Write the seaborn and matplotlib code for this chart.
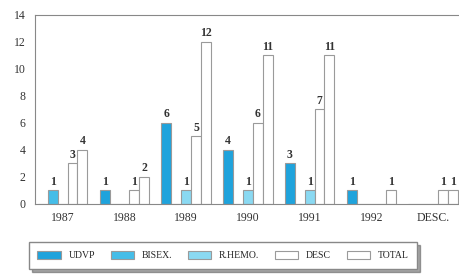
import pandas as pd
import matplotlib
matplotlib.use("Agg")
import matplotlib.pyplot as plt
import seaborn as sns

# Dados
anos = ["1987", "1988", "1989", "1990", "1991", "1992", "DESC."]
series = ["UDVP", "BISEX.", "R.HEMO.", "DESC", "TOTAL"]
udvp = [0, 1, 6, 4, 3, 1, 0]
bisex = [1, 0, 0, 0, 0, 0, 0]
rhemo = [0, 0, 1, 1, 1, 0, 0]
desc = [3, 1, 5, 6, 7, 0, 1]
total = [4, 2, 12, 11, 11, 1, 1]

cores = ["#1fa3dc", "#45bde8", "#8ad9f2", "#ffffff", "#ffffff"]

valores = {"UDVP": udvp, "BISEX.": bisex, "R.HEMO.": rhemo, "DESC": desc, "TOTAL": total}
linhas = []
for s in series:
    for a, v in zip(anos, valores[s]):
        linhas.append({"ano": a, "serie": s, "casos": v})
df = pd.DataFrame(linhas)

sns.set_theme(style="white")
plt.rcParams['font.family'] = ['Liberation Serif', 'DejaVu Serif']

fig = plt.figure(figsize=(4.59, 2.77), dpi=100)
ax = fig.add_axes([0.076, 0.264, 0.924, 0.682])

sns.barplot(data=df, x="ano", y="casos", hue="serie", order=anos, hue_order=series,
            palette=cores, width=0.8, edgecolor="#9a9a9a", linewidth=0.8,
            saturation=1, ax=ax, legend=True)

for cont, s in zip(ax.containers, series):
    rotulos = [str(v) if v > 0 else "" for v in valores[s]]
    ax.bar_label(cont, labels=rotulos, padding=2, fontsize=8.5, fontweight="bold", color="#333333")

ax.set_ylim(0, 14)
ax.set_xlim(-0.45, 6.42)
ax.set_yticks(range(0, 15, 2))
ax.set_xlabel("")
ax.set_ylabel("")
ax.tick_params(axis="both", labelsize=8.5, colors="#333333", length=3, direction="out")
ax.tick_params(axis="x", length=0, pad=6)
ax.spines["right"].set_visible(False)
for lado in ["top", "left", "bottom"]:
    ax.spines[lado].set_color("#888888")
    ax.spines[lado].set_linewidth(0.8)

handles, labels = ax.get_legend_handles_labels()
ax.get_legend().remove()
leg = fig.legend(handles, labels, loc="lower center", bbox_to_anchor=(0.486, 0.012), ncol=5,
                 fontsize=7, frameon=True, fancybox=False, shadow=True,
                 handlelength=2.4, handleheight=0.9, columnspacing=1.6, borderpad=0.9)
leg.get_frame().set_edgecolor("#888888")

fig.savefig("out.png", dpi=100)
